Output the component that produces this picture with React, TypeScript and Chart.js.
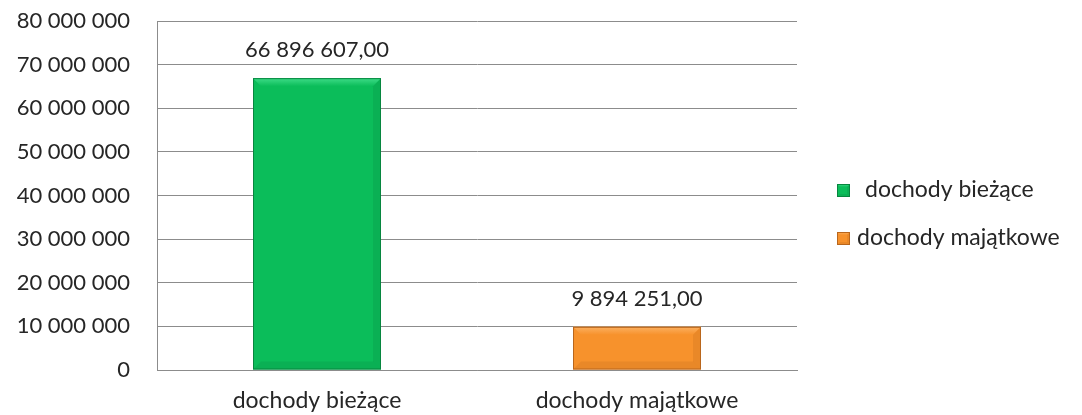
import React, { useEffect, useRef } from "react";
import { Chart, registerables } from "chart.js";

Chart.register(...registerables);

const categories = ["dochody bieżące", "dochody majątkowe"];
const values = [66896607.0, 9894251.0];
const valueLabels = ["66 896 607,00", "9 894 251,00"];
const yTicks = [0, 10000000, 20000000, 30000000, 40000000, 50000000, 60000000, 70000000, 80000000];

const FONT = "Lato, 'Open Sans', sans-serif";
const fillColors = ["#0bbd5a", "#f7922c"];
const lightColors = ["#3fdc88", "#fbb060"];
const darkColors = ["#07863f", "#b9661c"];

function fmt(v: number): string {
  return String(Math.round(v)).replace(/\B(?=(\d{3})+(?!\d))/g, " ");
}

function bevelRect(ctx: CanvasRenderingContext2D, x0: number, y0: number, x1: number, y1: number, i: number, b: number) {
  ctx.save();
  ctx.fillStyle = fillColors[i];
  ctx.fillRect(x0, y0, x1 - x0, y1 - y0);
  const g = ctx.createLinearGradient(0, y0, 0, y0 + b);
  g.addColorStop(0, lightColors[i]);
  g.addColorStop(1, fillColors[i]);
  ctx.fillStyle = g;
  ctx.beginPath();
  ctx.moveTo(x0, y0);
  ctx.lineTo(x1, y0);
  ctx.lineTo(x1 - b, y0 + b);
  ctx.lineTo(x0 + b, y0 + b);
  ctx.closePath();
  ctx.fill();
  ctx.globalAlpha = 0.22;
  ctx.fillStyle = darkColors[i];
  ctx.beginPath();
  ctx.moveTo(x1, y0);
  ctx.lineTo(x1, y1);
  ctx.lineTo(x1 - b, y1 - b);
  ctx.lineTo(x1 - b, y0 + b);
  ctx.closePath();
  ctx.fill();
  ctx.beginPath();
  ctx.moveTo(x0, y1);
  ctx.lineTo(x1, y1);
  ctx.lineTo(x1 - b, y1 - b);
  ctx.lineTo(x0 + b, y1 - b);
  ctx.closePath();
  ctx.fill();
  ctx.globalAlpha = 1;
  ctx.strokeStyle = darkColors[i];
  ctx.lineWidth = 1;
  ctx.strokeRect(x0 + 0.5, y0 + 0.5, x1 - x0 - 1, y1 - y0 - 1);
  ctx.restore();
}

const barPainter = {
  id: "barPainter",
  afterDatasetsDraw(chart: any) {
    const ctx = chart.ctx as CanvasRenderingContext2D;
    const meta = chart.getDatasetMeta(0);
    meta.data.forEach((bar: any, i: number) => {
      const x0 = bar.x - bar.width / 2;
      const x1 = bar.x + bar.width / 2;
      const y0 = bar.y;
      const y1 = bar.base;
      bevelRect(ctx, x0, y0, x1, y1, i, 8);
      ctx.save();
      ctx.fillStyle = "#262626";
      ctx.font = `22px ${FONT}`;
      ctx.textAlign = "center";
      ctx.textBaseline = "middle";
      ctx.fillText(valueLabels[i], bar.x, y0 - 28);
      ctx.restore();
    });
    const legendX = 837;
    const rows = [190, 238];
    categories.forEach((c, i) => {
      const cy = rows[i];
      bevelRect(ctx, legendX, cy - 6, legendX + 13, cy + 7, i, 3);
      ctx.save();
      ctx.fillStyle = "#262626";
      ctx.font = `23px ${FONT}`;
      ctx.textAlign = "left";
      ctx.textBaseline = "middle";
      ctx.fillText(c, i === 0 ? 865 : 857, cy);
      ctx.restore();
    });
  },
};

export default function App() {
  const ref = useRef<HTMLCanvasElement | null>(null);
  useEffect(() => {
    document.body.style.margin = "0";
    const canvas = ref.current!;
    const chart = new Chart(canvas, {
      type: "bar",
      data: {
        labels: categories,
        datasets: [
          {
            data: values,
            backgroundColor: "rgba(0,0,0,0)",
            borderWidth: 0,
            barPercentage: 0.4,
            categoryPercentage: 1,
          },
        ],
      },
      options: {
        animation: false,
        responsive: false,
        maintainAspectRatio: false,
        layout: { padding: { top: 21, right: 285, left: 0, bottom: 0 } },
        plugins: { legend: { display: false }, tooltip: { enabled: false } },
        scales: {
          x: {
            grid: { display: false, drawTicks: false },
            border: { display: true, color: "#8c8c8c" },
            ticks: { color: "#262626", font: { family: FONT, size: 23 }, padding: 17 },
            afterFit(scale: any) {
              scale.height = 45;
            },
          },
          y: {
            min: 0,
            max: 80000000,
            afterBuildTicks(scale: any) {
              scale.ticks = yTicks.map((v) => ({ value: v }));
            },
            grid: { color: "#8c8c8c", drawTicks: false },
            border: { display: true, color: "#8c8c8c" },
            ticks: {
              color: "#262626",
              font: { family: FONT, size: 22 },
              padding: 27,
              callback: (v: any) => fmt(Number(v)),
            },
            afterFit(scale: any) {
              scale.width = 157;
              scale.paddingTop = 12;
              scale.paddingBottom = 12;
            },
          },
        },
      },
      plugins: [barPainter],
    });
    return () => chart.destroy();
  }, []);
  return <canvas ref={ref} width={1082} height={415} style={{ display: "block" }} />;
}
